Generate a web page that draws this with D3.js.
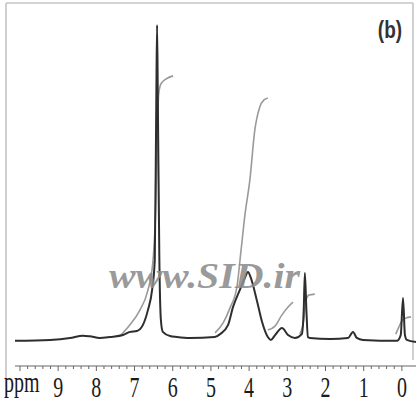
<!DOCTYPE html>
<html>
<head>
<meta charset="utf-8">
<script src="https://cdn.jsdelivr.net/npm/d3@7"></script>
<style>
  html, body { margin: 0; padding: 0; background: #fff; }
  svg { display: block; }
</style>
</head>
<body>
<svg id="chart" width="416" height="406"></svg>
<script>
// Dark spectrum (ppm, relative intensity)
const darkPpm = [10.13, 9.21, 8.69, 8.35, 8.17, 7.91, 7.64, 7.30, 7.12, 6.94, 6.78, 6.65, 6.54, 6.47,
  6.43, 6.41, 6.39, 6.35, 6.31, 6.26, 6.07, 5.89, 5.55, 4.90, 4.76, 4.55, 4.42, 4.24, 4.11, 4.03,
  3.95, 3.80, 3.66, 3.51, 3.43, 3.32, 3.14, 2.98, 2.80, 2.62, 2.57, 2.54, 2.50, 2.46, 2.41, 1.88,
  1.41, 1.28, 1.18, 1.02, 0.13, 0.03, -0.03, -0.08, -0.13, -0.37];
const darkInt = [1.3, 1.6, 2.2, 2.9, 2.7, 2.2, 2.5, 3.1, 4.1, 4.4, 6.3, 10.9, 17.2, 26.6,
  76.6, 100, 76.6, 26.6, 7.8, 4.1, 2.8, 2.5, 2.2, 2.5, 3.4, 6.3, 11.9, 17.3, 21.0, 22.8,
  20.8, 14.1, 7.2, 2.5, 1.6, 3.1, 5.3, 3.1, 2.2, 3.4, 10.9, 22.5, 10.9, 2.5, 2.2, 1.9,
  2.2, 4.1, 2.2, 1.6, 1.3, 3.1, 14.7, 3.1, 1.6, 0.9];

// Gray trace pieces (ppm, relative intensity)
const gray1 = [[7.38, 2.8], [7.12, 6.3], [6.86, 10.9], [6.67, 16.3], [6.52, 25.9], [6.44, 45.3],
  [6.40, 67.2], [6.37, 78.1], [6.31, 81.6], [6.18, 83.1], [5.99, 84.1]];
const gray2 = [[4.89, 3.8], [4.68, 6.9], [4.50, 11.6], [4.32, 18.1], [4.21, 29.7], [4.11, 40.6],
  [3.98, 51.6], [3.85, 67.2], [3.72, 74.4], [3.61, 76.6], [3.51, 77.2]];
const gray3 = [[3.51, 4.7], [3.32, 5.9], [3.14, 9.4], [2.98, 11.9], [2.85, 13.4]];
const gray4 = [[2.67, 3.4], [2.57, 7.8], [2.51, 14.1], [2.43, 15.6], [2.28, 15.9]];
const gray5 = [[0.16, 3.4], [0.08, 5.6], [0.00, 7.5], [-0.10, 8.4], [-0.24, 8.8]];

const tickLabels = [9, 8, 7, 6, 5, 4, 3, 2, 1, 0];
const minorTicks = d3.range(0, 51).map(i => 10 - i * 0.2);

const svg = d3.select('#chart');

const x = d3.scaleLinear().domain([10.13, -0.37]).range([15, 416]);
const y = d3.scaleLinear().domain([0, 100]).range([345, 25]);

// Frame
const frame = svg.append('g').attr('stroke', '#c4c4c4').attr('stroke-width', 1.6).attr('fill', 'none');
frame.append('line').attr('x1', 6).attr('y1', 3).attr('x2', 413).attr('y2', 3);
frame.append('line').attr('x1', 6).attr('y1', 3).attr('x2', 6).attr('y2', 398);
frame.append('line').attr('x1', 413).attr('y1', 3).attr('x2', 413).attr('y2', 360);

// Axis
const axisY = 366;
const axis = svg.append('g').attr('stroke', '#666');
axis.append('line').attr('x1', 15).attr('x2', 416).attr('y1', axisY).attr('y2', axisY).attr('stroke-width', 1.2);
axis.selectAll('.minor')
  .data(minorTicks)
  .join('line')
  .attr('x1', d => x(d)).attr('x2', d => x(d))
  .attr('y1', axisY).attr('y2', d => Math.abs(d - Math.round(d)) < 0.01 ? axisY + 5 : axisY + 3)
  .attr('stroke-width', 1);

const labels = svg.append('g')
  .attr('font-family', '"Liberation Serif", "Times New Roman", serif')
  .attr('font-size', 20)
  .attr('fill', '#1a1a1a');
labels.selectAll('text')
  .data(tickLabels)
  .join('text')
  .attr('transform', d => `translate(${x(d)},397) scale(1,1.45)`)
  .attr('text-anchor', 'middle')
  .text(d => d);
labels.append('text')
  .attr('transform', 'translate(4,392) scale(1,1.45)')
  .text('ppm');

// Line generator
const line = d3.line()
  .x(d => x(d[0]))
  .y(d => y(d[1]))
  .curve(d3.curveMonotoneX);

// Gray trace
[gray1, gray2, gray3, gray4, gray5].forEach(seg => {
  svg.append('path')
    .attr('d', line(seg))
    .attr('fill', 'none')
    .attr('stroke', '#9a9a9a')
    .attr('stroke-width', 1.6);
});

// Dark trace
const darkData = darkPpm.map((p, i) => [p, darkInt[i]]);
svg.append('path')
  .attr('d', line(darkData))
  .attr('fill', 'none')
  .attr('stroke', '#2e2e2e')
  .attr('stroke-width', 2);

// Panel label
svg.append('text')
  .attr('transform', 'translate(390,38) scale(1,1.3)')
  .attr('text-anchor', 'middle')
  .attr('font-family', '"Liberation Sans", Arial, sans-serif')
  .attr('font-size', 19)
  .attr('font-weight', 'bold')
  .attr('fill', '#333')
  .text('(b)');

// Watermark
svg.append('text')
  .attr('x', 109)
  .attr('y', 288)
  .attr('font-family', '"Liberation Serif", "Times New Roman", serif')
  .attr('font-weight', 'bold')
  .attr('font-style', 'italic')
  .attr('font-size', 36)
  .attr('textLength', 191)
  .attr('lengthAdjust', 'spacingAndGlyphs')
  .attr('fill', '#8c8c8c')
  .attr('fill-opacity', 0.9)
  .text('www.SID.ir');
</script>
</body>
</html>
